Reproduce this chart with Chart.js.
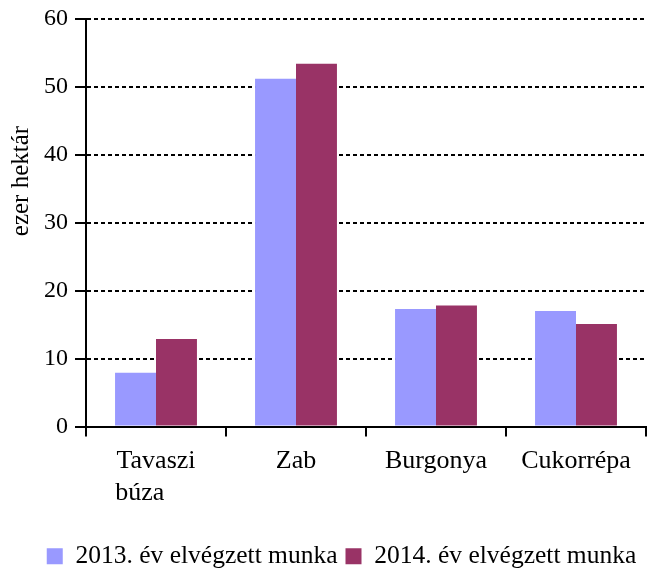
<!DOCTYPE html>
<html>
<head>
<meta charset="utf-8">
<script src="https://cdn.jsdelivr.net/npm/chart.js@4/dist/chart.umd.min.js"></script>
<style>
html,body{margin:0;padding:0;background:#fff;}
#wrap{width:651px;height:569px;position:relative;}
</style>
</head>
<body>
<div id="wrap"><canvas id="c" width="651" height="569"></canvas></div>
<script>
const categories = [['Tavaszi', 'búza'], 'Zab', 'Burgonya', 'Cukorrépa'];
const series2013 = [7.9, 51.2, 17.3, 17.0];
const series2014 = [12.9, 53.4, 17.8, 15.1];
const seriesNames = ['2013. év elvégzett munka', '2014. év elvégzett munka'];
const yTicks = [0, 10, 20, 30, 40, 50, 60];
const yTitle = 'ezer hektár';

const FONT = "'Liberation Serif', 'Times New Roman', serif";

const yTitlePlugin = {
  id: 'yTitle',
  afterDraw(chart) {
    const ctx = chart.ctx;
    ctx.save();
    ctx.font = '25px ' + FONT;
    ctx.fillStyle = '#000';
    ctx.textAlign = 'center';
    ctx.textBaseline = 'middle';
    ctx.translate(21, 181);
    ctx.rotate(-Math.PI / 2);
    ctx.fillText(yTitle, 0, 0);
    ctx.restore();
  }
};

new Chart(document.getElementById('c'), {
  type: 'bar',
  data: {
    labels: categories,
    datasets: [
      { label: seriesNames[0], data: series2013, backgroundColor: '#9999FF', borderWidth: 0 },
      { label: seriesNames[1], data: series2014, backgroundColor: '#993366', borderWidth: 0 }
    ]
  },
  options: {
    responsive: false,
    animation: false,
    devicePixelRatio: 1,
    layout: { padding: { left: 37, right: 5, top: 17, bottom: -10 } },
    datasets: { bar: { categoryPercentage: 0.585, barPercentage: 1.0 } },
    plugins: {
      legend: {
        position: 'bottom',
        labels: {
          font: { family: FONT, size: 25.5 },
          color: '#000',
          boxWidth: 16,
          boxHeight: 16,
          padding: 8,
          useBorderRadius: false
        }
      },
      tooltip: { enabled: false }
    },
    scales: {
      x: {
        grid: { display: true, drawOnChartArea: false, color: '#000', lineWidth: 2, tickLength: 10, offset: true },
        border: { display: true, color: '#000', width: 2 },
        ticks: {
          color: '#000',
          font: { family: FONT, size: 26, lineHeight: 1.23 },
          padding: 9,
          maxRotation: 0,
          autoSkip: false,
          callback: function(v, i) {
            const l = categories[i];
            if (Array.isArray(l)) return [l[0], l[1] + '\u00a0'.repeat(5)];
            return l;
          }
        },
        afterFit: s => { s.height = 109; }
      },
      y: {
        min: 0, max: 60,
        afterBuildTicks: s => { s.ticks = yTicks.map(v => ({ value: v })); },
        grid: { color: '#000', lineWidth: 2, tickLength: 11, tickBorderDash: [], tickColor: '#000' },
        border: { display: true, color: '#000', width: 2, dash: [4, 3] },
        ticks: { color: '#000', font: { family: FONT, size: 24, lineHeight: 1.0 }, padding: 7 },
        afterFit: s => { s.width = 49; }
      }
    }
  },
  plugins: [yTitlePlugin]
});
</script>
</body>
</html>
